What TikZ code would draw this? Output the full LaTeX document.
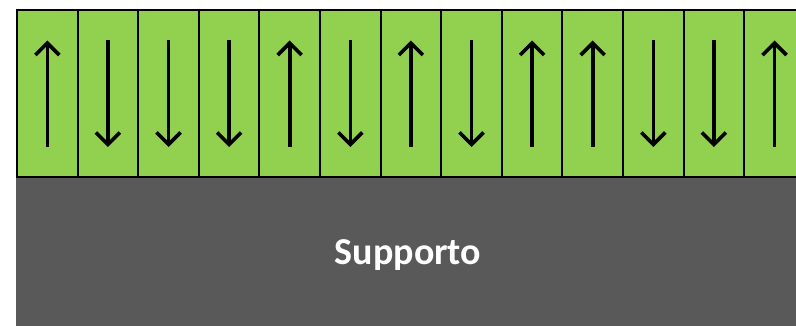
\documentclass[tikz,border=0pt]{standalone}
\usepackage{fontspec}
\setmainfont{Carlito}
\usetikzlibrary{arrows.meta}
\definecolor{cellgreen}{HTML}{92D050}
\definecolor{basegray}{HTML}{595959}

\begin{document}
\begin{tikzpicture}[x=1pt, y=-1pt,
	cell/.style={draw=black, fill=cellgreen, line width=2pt, minimum width=60.6pt, minimum height=166.5pt, anchor=north west, inner sep=0pt},
	spin/.style={line width=3.6pt, -{Straight Barb[length=12pt, width=24pt]}},
	up/.style={spin},
	down/.style={spin}]
	\useasboundingbox (0,0) rectangle (796,326);
	\node[fill=basegray, minimum width=780pt, minimum height=150pt, anchor=north west, inner sep=0pt] (Base) at (16,176) {};
	\node[text=white, font=\fontsize{38}{40}\selectfont\bfseries] (Label) at (408,255) {Supporto};
	\node[cell] (C1) at (16,9.5) {};
	\node[cell] (C2) at (76.6,9.5) {};
	\node[cell] (C3) at (137.2,9.5) {};
	\node[cell] (C4) at (197.8,9.5) {};
	\node[cell] (C5) at (258.4,9.5) {};
	\node[cell] (C6) at (319,9.5) {};
	\node[cell] (C7) at (379.6,9.5) {};
	\node[cell] (C8) at (440.2,9.5) {};
	\node[cell] (C9) at (500.8,9.5) {};
	\node[cell] (C10) at (561.4,9.5) {};
	\node[cell] (C11) at (622,9.5) {};
	\node[cell] (C12) at (682.6,9.5) {};
	\node[cell] (C13) at (743.2,9.5) {};
	\draw[up] ([yshift=31pt]C1.south) -- ([yshift=-31pt]C1.north);
	\draw[down] ([yshift=-31pt]C2.north) -- ([yshift=31pt]C2.south);
	\draw[down] ([yshift=-31pt]C3.north) -- ([yshift=31pt]C3.south);
	\draw[down] ([yshift=-31pt]C4.north) -- ([yshift=31pt]C4.south);
	\draw[up] ([yshift=31pt]C5.south) -- ([yshift=-31pt]C5.north);
	\draw[down] ([yshift=-31pt]C6.north) -- ([yshift=31pt]C6.south);
	\draw[up] ([yshift=31pt]C7.south) -- ([yshift=-31pt]C7.north);
	\draw[down] ([yshift=-31pt]C8.north) -- ([yshift=31pt]C8.south);
	\draw[up] ([yshift=31pt]C9.south) -- ([yshift=-31pt]C9.north);
	\draw[up] ([yshift=31pt]C10.south) -- ([yshift=-31pt]C10.north);
	\draw[down] ([yshift=-31pt]C11.north) -- ([yshift=31pt]C11.south);
	\draw[down] ([yshift=-31pt]C12.north) -- ([yshift=31pt]C12.south);
	\draw[up] ([yshift=31pt]C13.south) -- ([yshift=-31pt]C13.north);
\end{tikzpicture}
\end{document}
